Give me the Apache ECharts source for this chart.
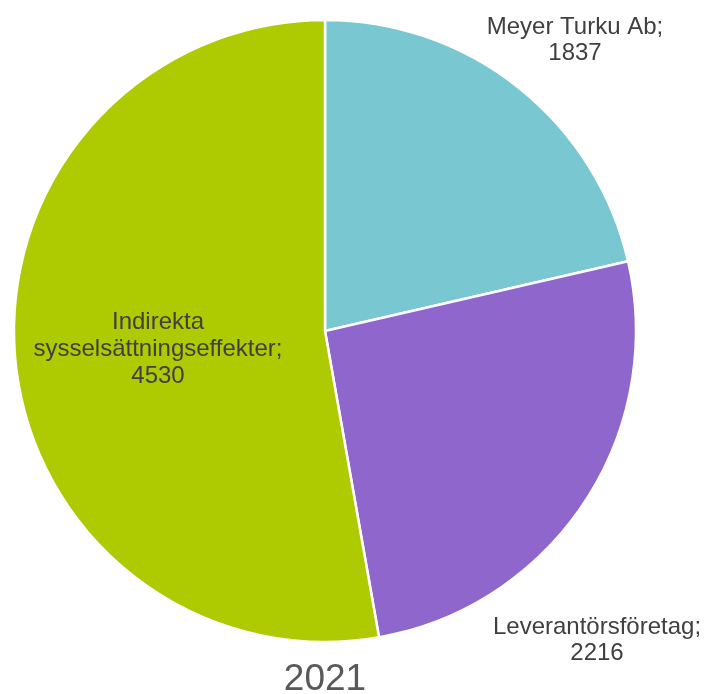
<!DOCTYPE html>
<html>
<head>
<meta charset="utf-8">
<script src="https://cdn.jsdelivr.net/npm/echarts@6/dist/echarts.min.js"></script>
<style>html,body{margin:0;padding:0;background:#fff}#c{width:708px;height:694px}</style>
</head>
<body>
<div id="c"></div>
<script>
const categories = ["Meyer Turku Ab", "Leverantörsföretag", "Indirekta sysselsättningseffekter"];
const labelNames = ["Meyer Turku Ab", "Leverantörsföretag", "Indirekta\nsysselsättningseffekter"];
const values = [1837, 2216, 4530];
const colors = ["#79C8D1", "#8E66CC", "#AECA00"];
const title = "2021";
const labelPos = [[575, 40], [597, 640], [158, 349]];
const labelLineHeights = [26, 26, 27];

const chart = echarts.init(document.getElementById('c'));
chart.setOption({
  animation: false,
  title: {
    text: title, left: 320, top: 656, textAlign: 'center',
    textStyle: {fontFamily: 'Liberation Sans, Arial', fontSize: 37, fontWeight: 'normal', color: '#595959'}
  },
  series: [{
    type: 'pie',
    center: [325, 331],
    radius: [0, 311],
    startAngle: 90,
    clockwise: true,
    itemStyle: {borderColor: '#fff', borderWidth: 2.5},
    label: {
      show: true,
      position: 'inside',
      fontFamily: 'Liberation Sans, Arial',
      fontSize: 24,
      lineHeight: 26,
      color: '#404040',
      align: 'center',
      formatter: p => labelNames[p.dataIndex] + ';\n' + p.value
    },
    labelLine: {show: false},
    labelLayout: p => ({x: labelPos[p.dataIndex][0], y: labelPos[p.dataIndex][1], align: 'center', verticalAlign: 'middle'}),
    data: categories.map((c, i) => ({
      name: c, value: values[i],
      itemStyle: {color: colors[i]},
      label: {lineHeight: labelLineHeights[i]}
    }))
  }]
});
</script>
</body>
</html>
